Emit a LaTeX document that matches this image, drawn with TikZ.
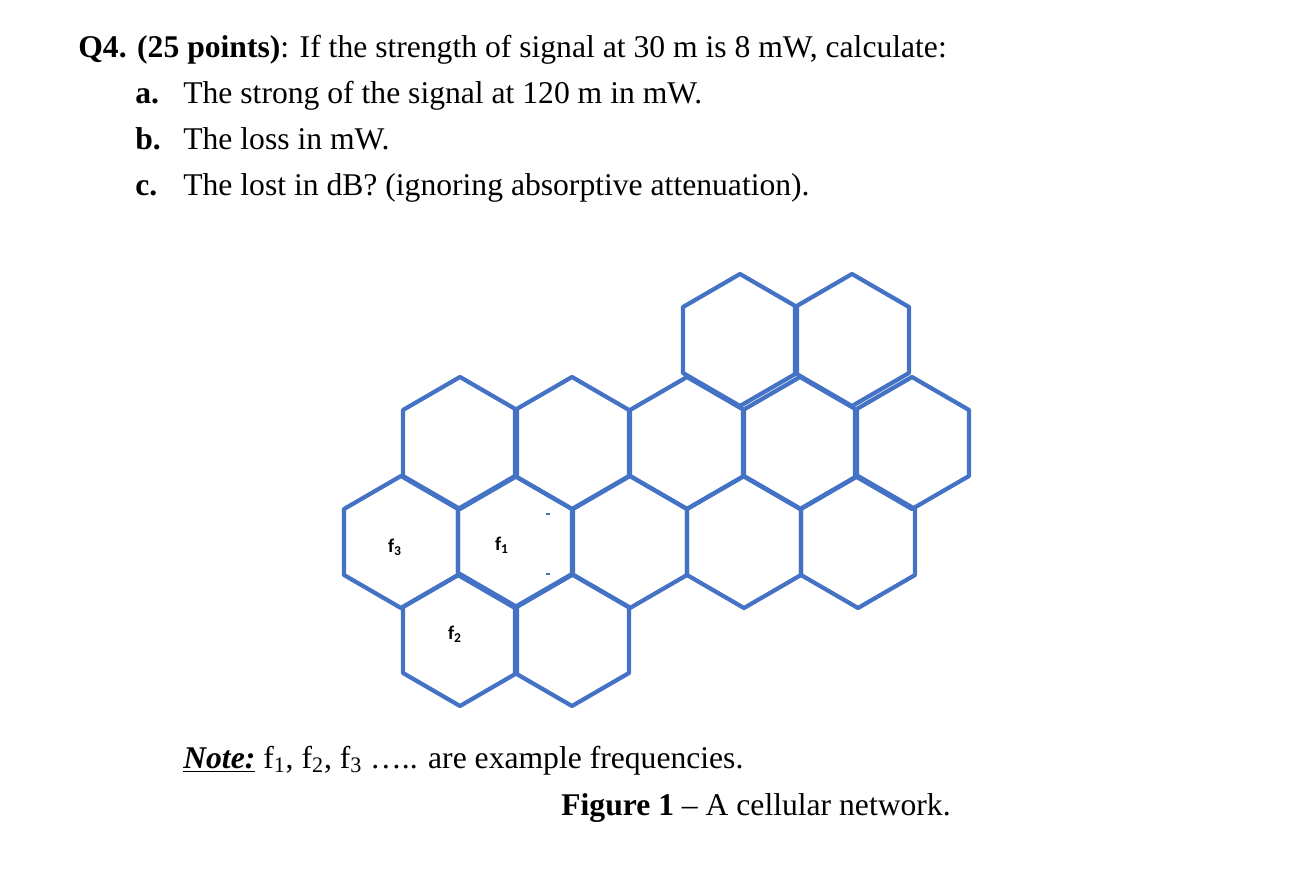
\documentclass[tikz,border=0pt]{standalone}
\usepackage{fontspec}
\setmainfont{Liberation Serif}
\newfontfamily\calfont{Carlito}
\begin{document}
\begin{tikzpicture}[x=0.02cm,y=-0.02cm,
  hexcell/.style={draw=hexblue,line width=2.4pt,line join=round},
  txt/.style={anchor=base west,inner sep=0pt,font=\fontsize{18}{21}\selectfont},
  flabel/.style={inner sep=0pt,font=\calfont\bfseries\fontsize{11}{13}\selectfont}]
\definecolor{hexblue}{HTML}{4472C4}
\useasboundingbox (0,0) rectangle (1292,885);
\node[txt] (q) at (78,58) {\textbf{Q4. (25 points)}: If the strength of signal at 30 m is 8 mW, calculate:};
\node[txt] (a) at (135,104) {\textbf{a.}};
\node[txt] (at) at (183,104) {The strong of the signal at 120 m in mW.};
\node[txt] (b) at (135,150) {\textbf{b.}};
\node[txt] (bt) at (183,150) {The loss in mW.};
\node[txt] (c) at (135,196) {\textbf{c.}};
\node[txt] (ct) at (183,196) {The lost in dB? (ignoring absorptive attenuation).};
\node[txt] (note) at (183,768) {\textbf{\textit{\underline{Note:}}} f\textsubscript{1}, f\textsubscript{2}, f\textsubscript{3} ….. are example frequencies.};
\node[txt] (fig) at (561,815) {\textbf{Figure 1} -- A cellular network.};
\def\r{66}
\foreach \cx/\cy in {740/340,852/340,
  460/443,572/443,687/443,800/443,912/443,
  401/542,515/542,630/542,744/542,858/542,
  460/640,572/640}{
  \draw[hexcell] (\cx+57,\cy-33) -- (\cx,\cy-\r) -- (\cx-57,\cy-33) -- (\cx-57,\cy+33) -- (\cx,\cy+\r) -- (\cx+57,\cy+33) -- cycle;
}
\node[flabel] (f3) at (395,547) {f\textsubscript{3}};
\node[flabel] (f1) at (502,545) {f\textsubscript{1}};
\node[flabel] (f2) at (455,634) {f\textsubscript{2}};
\draw[hexblue,line width=1pt] (546,514) -- (550,514);
\draw[hexblue,line width=1pt] (546,574) -- (550,574);
\end{tikzpicture}
\end{document}
